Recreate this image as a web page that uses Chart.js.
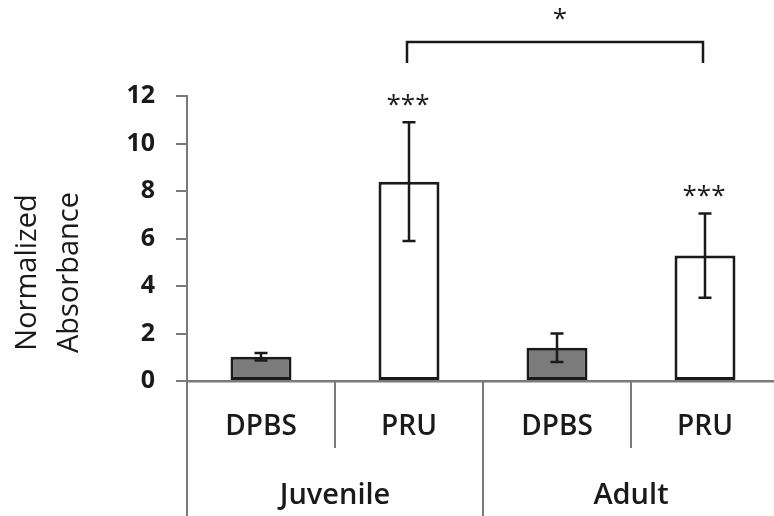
<!DOCTYPE html>
<html>
<head>
<meta charset="utf-8">
<script src="https://cdn.jsdelivr.net/npm/chart.js@4.4.1/dist/chart.umd.min.js"></script>
<style>
  html, body { margin: 0; padding: 0; background: #fff; overflow: hidden; }
  #wrap { width: 774px; height: 516px; overflow: hidden; }
</style>
</head>
<body>
<div id="wrap">
  <canvas id="absChart" width="800" height="516"></canvas>
</div>
<script>
// values
const subLabels = ['DPBS', 'PRU', 'DPBS', 'PRU'];
const groupLabels = ['Juvenile', 'Adult'];
const values = [1.02, 8.39, 1.40, 5.28];
const errors = [0.16, 2.50, 0.60, 1.77];
const sigLabels = ['', '***', '', '***'];
const yTicks = [0, 2, 4, 6, 8, 10, 12];
const titleLines = ['Normalized', 'Absorbance'];
const compare = { from: 1, to: 3, label: '*' };

const AXIS_GREY = '#7a7a7a';
const INK = '#1a1a1a';

// error bars, asterisks and comparison bracket
const annotations = {
  id: 'annotations',
  afterDatasetsDraw(chart) {
    const ctx = chart.ctx;
    const y = chart.scales.y;
    const bars = chart.getDatasetMeta(0).data;
    ctx.save();
    ctx.strokeStyle = INK;
    ctx.lineWidth = 2.5;
    bars.forEach((bar, i) => {
      const top = y.getPixelForValue(values[i] + errors[i]);
      const bot = y.getPixelForValue(values[i] - errors[i]);
      ctx.beginPath();
      ctx.moveTo(bar.x, top); ctx.lineTo(bar.x, bot);
      ctx.moveTo(bar.x - 6.5, top); ctx.lineTo(bar.x + 6.5, top);
      ctx.moveTo(bar.x - 6.5, bot); ctx.lineTo(bar.x + 6.5, bot);
      ctx.stroke();
      if (sigLabels[i]) {
        ctx.fillStyle = INK;
        ctx.font = '26px "Open Sans"';
        ctx.textAlign = 'center';
        ctx.textBaseline = 'middle';
        ctx.fillText(sigLabels[i], bar.x - 1, top - 17);
      }
    });
    // bracket
    const x1 = bars[compare.from].x - 2;
    const x2 = bars[compare.to].x - 2;
    const by = chart.chartArea.top - 54;
    ctx.beginPath();
    ctx.moveTo(x1, by + 21); ctx.lineTo(x1, by); ctx.lineTo(x2, by); ctx.lineTo(x2, by + 21);
    ctx.stroke();
    ctx.fillStyle = INK;
    ctx.font = '26px "Open Sans"';
    ctx.textAlign = 'center';
    ctx.textBaseline = 'middle';
    ctx.fillText(compare.label, (x1 + x2) / 2 + 5, by - 22);
    ctx.restore();
  }
};

// category separators and the y axis title
const frame = {
  id: 'frame',
  afterDraw(chart) {
    const ctx = chart.ctx;
    const xs = chart.scales.x;
    const step = (xs.right - xs.left) / subLabels.length;
    ctx.save();
    ctx.strokeStyle = AXIS_GREY;
    ctx.lineWidth = 2;
    for (let i = 0; i <= subLabels.length; i++) {
      const x = Math.round(xs.left + i * step);
      ctx.beginPath();
      ctx.moveTo(x, xs.top);
      ctx.lineTo(x, i % 2 === 0 ? chart.height : xs.top + 67);
      ctx.stroke();
    }
    const area = chart.chartArea;
    const cy = (area.top + area.bottom) / 2 + 34;
    ctx.fillStyle = INK;
    ctx.font = '29px "Open Sans"';
    ctx.textAlign = 'center';
    ctx.textBaseline = 'middle';
    titleLines.forEach((t, i) => {
      ctx.save();
      ctx.translate(28 + i * 42, cy);
      ctx.rotate(-Math.PI / 2);
      ctx.fillText(t, 0, 0);
      ctx.restore();
    });
    ctx.restore();
  }
};

const ctx = document.getElementById('absChart').getContext('2d');
const absChart = new Chart(ctx, {
  type: 'bar',
  data: {
    labels: subLabels,
    datasets: [{
      data: values,
      backgroundColor: subLabels.map(l => l === 'DPBS' ? '#7b7b7b' : '#ffffff'),
      borderColor: INK,
      borderWidth: 3,
      borderSkipped: false,
      barPercentage: 0.412,
      categoryPercentage: 1
    }]
  },
  options: {
    responsive: false,
    animation: false,
    layout: { padding: { top: 96, right: 21, left: 0, bottom: 0 } },
    plugins: {
      legend: { display: false },
      tooltip: { enabled: false }
    },
    scales: {
      y: {
        min: 0,
        max: 12,
        afterFit: s => { s.width = 187; },
        afterBuildTicks: s => { s.ticks = yTicks.map(v => ({ value: v })); },
        ticks: {
          padding: 21,
          color: INK,
          font: { family: 'Open Sans', size: 25, weight: 'bold' }
        },
        grid: { drawOnChartArea: false, drawTicks: true, tickLength: 11, color: AXIS_GREY, lineWidth: 2 },
        border: { color: AXIS_GREY, width: 2 }
      },
      x: {
        weight: 0,
        afterFit: s => { s.height = 70; },
        ticks: {
          padding: 29,
          maxRotation: 0,
          color: INK,
          font: { family: 'Open Sans', size: 28, weight: '600' }
        },
        grid: { drawOnChartArea: false, drawTicks: false },
        border: { color: AXIS_GREY, width: 2.5 }
      },
      x2: {
        type: 'category',
        position: 'bottom',
        weight: 1,
        labels: groupLabels,
        offset: true,
        afterFit: s => { s.height = 65; },
        ticks: {
          padding: 27,
          maxRotation: 0,
          color: INK,
          font: { family: 'Open Sans', size: 29, weight: '600' }
        },
        grid: { drawOnChartArea: false, drawTicks: false },
        border: { display: false }
      }
    }
  },
  plugins: [annotations, frame]
});
</script>
</body>
</html>
